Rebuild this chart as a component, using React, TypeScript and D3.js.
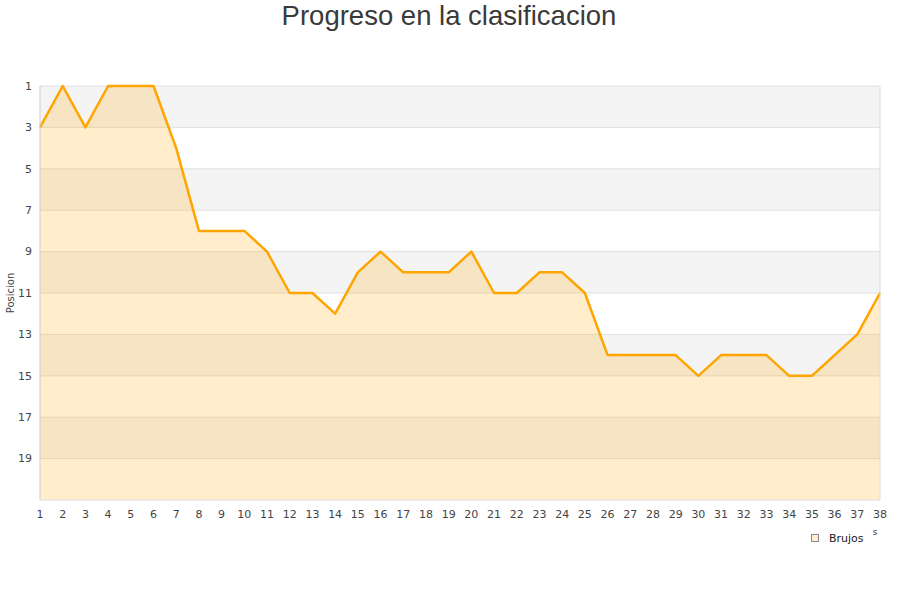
import React from 'react';
import * as d3 from 'd3';

const jornadas: number[] = d3.range(1, 39);
const posiciones: number[] = [
  3, 1, 3, 1, 1, 1, 4, 8, 8, 8, 9, 11, 11, 12, 10, 9, 10, 10, 10, 9,
  11, 11, 10, 10, 11, 14, 14, 14, 14, 15, 14, 14, 14, 15, 15, 14, 13, 11,
];
const yTicks: number[] = [1, 3, 5, 7, 9, 11, 13, 15, 17, 19];
const seriesName = 'Brujos';
const title = 'Progreso en la clasificacion';
const yTitle = 'Posicion';

const width = 900;
const height = 600;
const margin = { top: 86, right: 20, bottom: 100, left: 40 };
const font = 'DejaVu Sans, sans-serif';

const App: React.FC = () => {
  const x = d3.scaleLinear().domain([1, 38]).range([margin.left, width - margin.right]);
  const y = d3.scaleLinear().domain([1, 21]).range([margin.top, height - margin.bottom]);

  const line = d3.line<number>()
    .x((_, i) => x(jornadas[i]))
    .y(d => y(d));
  const area = d3.area<number>()
    .x((_, i) => x(jornadas[i]))
    .y0(y(21))
    .y1(d => y(d));

  // alternating bands between grid lines
  const bands = d3.range(1, 21, 2);

  return (
    <svg width={width} height={height} style={{ display: 'block', position: 'absolute', left: 0, top: 0 }}>
      <rect width={width} height={height} fill="#fff" />
      <text x={449} y={25} textAnchor="middle" fontFamily="Liberation Sans, Arial, sans-serif" fontSize={27.5} fill="#3a3a3a">
        {title}
      </text>

      {bands.map((b, i) => (
        <rect key={b} x={x(1)} y={y(b)} width={x(38) - x(1)} height={y(b + 2) - y(b)}
          fill={i % 2 === 0 ? '#f4f4f4' : '#ffffff'} />
      ))}
      {yTicks.map(t => (
        <line key={t} x1={x(1)} x2={x(38)} y1={y(t)} y2={y(t)} stroke="#e0e0e0" strokeWidth={1} />
      ))}

      <path d={area(posiciones) || ''} fill="rgba(255,165,0,0.2)" />
      <path d={line(posiciones) || ''} fill="none" stroke="#ffa500" strokeWidth={2.5} strokeLinejoin="round" />

      <line x1={x(1)} x2={x(1)} y1={y(1)} y2={y(21)} stroke="#cccccc" />
      <line x1={x(38)} x2={x(38)} y1={y(1)} y2={y(21)} stroke="#dddddd" />
      <line x1={x(1)} x2={x(38)} y1={y(21)} y2={y(21)} stroke="#dddddd" />

      {yTicks.map(t => (
        <text key={t} x={32} y={y(t)} dy="0.35em" textAnchor="end" fontFamily={font} fontSize={11} fill="#444">
          {t}
        </text>
      ))}
      {jornadas.map(j => (
        <text key={j} x={x(j)} y={518} textAnchor="middle" fontFamily={font} fontSize={11} fill="#444">
          {j}
        </text>
      ))}

      <text transform={`translate(14,${y(11)}) rotate(-90)`} textAnchor="middle" fontFamily={font} fontSize={10} fill="#444">
        {yTitle}
      </text>
      <text x={875} y={535} textAnchor="middle" fontFamily={font} fontSize={9} fill="#444">s</text>

      <rect x={811.5} y={534.5} width={7} height={7} fill="#ffedcc" stroke="#888" strokeWidth={1} />
      <text x={829} y={542} fontFamily={font} fontSize={11} fill="#222">{seriesName}</text>
    </svg>
  );
};

export default App;
